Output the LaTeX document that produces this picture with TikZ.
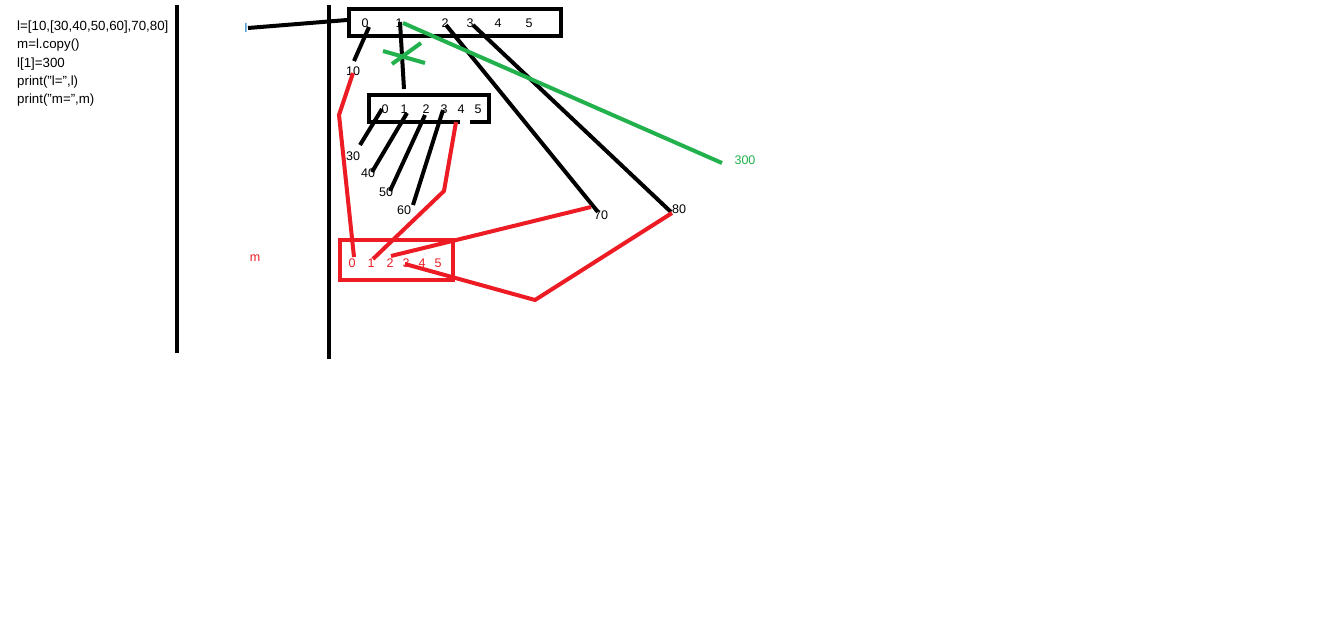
\documentclass[tikz,border=0pt]{standalone}
\usepackage{fontspec}
\setmainfont{Liberation Sans}
\definecolor{myred}{RGB}{237,28,36}
\definecolor{mygreen}{RGB}{34,177,76}
\definecolor{myblue}{RGB}{0,112,192}
\newcommand{\dq}{{\char34}}
\begin{document}
\begin{tikzpicture}[x=1pt,y=-1pt,
  lbl/.style={inner sep=0pt,anchor=base,font=\fontsize{12.5}{12.5}\selectfont},
  code/.style={inner sep=0pt,anchor=base west,font=\fontsize{13.3}{13.3}\selectfont},
  blk/.style={draw=black,line width=4pt},
  grn/.style={draw=mygreen,line width=4pt},
  rd/.style={draw=myred,line width=4pt},
  boxb/.style={draw=black,line width=4pt},
]
\useasboundingbox[fill=white] (0,0) rectangle (1344,619);
% code
\node[code] (c1) at (17,30) {l=[10,[30,40,50,60],70,80]};
\node[code] (c2) at (17,48) {m=l.copy()};
\node[code] (c3) at (17,67) {l[1]=300};
\node[code] (c4) at (17,85) {print(\dq l=\dq,l)};
\node[code] (c5) at (17,103) {print(\dq m=\dq,m)};
% vertical lines
\coordinate (v1t) at (177,5); \coordinate (v1b) at (177,353);
\coordinate (v2t) at (329,5); \coordinate (v2b) at (329,359);
\draw[black,line width=4.5pt] (v1t) -- (v1b);
\draw[black,line width=4.5pt] (v2t) -- (v2b);
% l label
\node[lbl,text=myblue] (l) at (246,32) {l};
% top box
\node[boxb,minimum width=212pt,minimum height=27pt,inner sep=0pt] (top) at (455,22.5) {};
\draw[black,line width=4pt] (248,28) -- (top.west|-0,20);
\foreach \n/\x in {0/365,1/399,2/445,3/470,4/498,5/529}{\node[lbl] (t\n) at (\x,27) {\n};}
% inner box (with gap in bottom edge)
\coordinate (ia) at (460,122); \coordinate (ib) at (369,122); \coordinate (ic) at (369,95);
\coordinate (id) at (489,95); \coordinate (ie) at (489,122); \coordinate (iff) at (470,122);
\draw[black,line width=4pt,line join=miter] (ia) -- (ib) -- (ic) -- (id) -- (ie) -- (iff);
\foreach \n/\x in {0/385,1/404,2/426,3/444,4/461,5/478}{\node[lbl] (i\n) at (\x,113) {\n};}
% m box
\node[draw=myred,line width=4pt,minimum width=113pt,minimum height=40pt,inner sep=0pt] (mb) at (396.5,260) {};
\foreach \n/\x in {0/352,1/371,2/390,3/406,4/422,5/438}{\node[lbl,text=myred] (m\n) at (\x,267) {\n};}
\node[lbl,text=myred] (m) at (255,261) {m};
% value labels
\node[lbl] (v10) at (353,75) {10};
\node[lbl] (v30) at (353,160) {30};
\node[lbl] (v40) at (368,177) {40};
\node[lbl] (v50) at (386,196) {50};
\node[lbl] (v60) at (404,214) {60};
\node[lbl] (v70) at (601,219) {70};
\node[lbl] (v80) at (679,213) {80};
\node[lbl,text=mygreen] (v300) at (745,164) {300};
% black references
\coordinate (a0) at (369,27); \coordinate (a0e) at (354,61);
\draw[blk] (a0) -- (a0e);
\coordinate (a1) at (400,22); \coordinate (a1e) at (404,89);
\draw[blk] (a1) -- (a1e);
\coordinate (a2) at (446,25); \coordinate (a2e) at (598,212);
\draw[blk] (a2) -- (a2e);
\coordinate (a3) at (473,25); \coordinate (a3e) at (671,212);
\draw[blk] (a3) -- (a3e);
\coordinate (b0) at (382,109); \coordinate (b0e) at (360,145);
\coordinate (b1) at (407,113); \coordinate (b1e) at (372,172);
\coordinate (b2) at (425,115); \coordinate (b2e) at (390,191);
\coordinate (b3) at (443,110); \coordinate (b3e) at (413,205);
\draw[blk] (b0) -- (b0e);
\draw[blk] (b1) -- (b1e);
\draw[blk] (b2) -- (b2e);
\draw[blk] (b3) -- (b3e);
% green
\coordinate (g1) at (403,23); \coordinate (g2) at (722,163);
\draw[grn] (g1) -- (g2);
\coordinate (x1) at (383,51); \coordinate (x2) at (425,63);
\coordinate (x3) at (392,64); \coordinate (x4) at (421,43);
\draw[grn] (x1) -- (x2);
\draw[grn] (x3) -- (x4);
% red
\coordinate (r1) at (353,73); \coordinate (r2) at (339,115); \coordinate (r3) at (354,257);
\draw[rd,line join=miter] (r1) -- (r2) -- (r3);
\coordinate (s1) at (456,122); \coordinate (s2) at (444,191); \coordinate (s3) at (373,259);
\draw[rd] (s1) -- (s2) -- (s3);
\coordinate (u1) at (391,256); \coordinate (u2) at (591,207);
\draw[rd] (u1) -- (u2);
\coordinate (w1) at (405,264); \coordinate (w2) at (535,300); \coordinate (w3) at (672,213);
\draw[rd] (w1) -- (w2) -- (w3);
\end{tikzpicture}
\end{document}
